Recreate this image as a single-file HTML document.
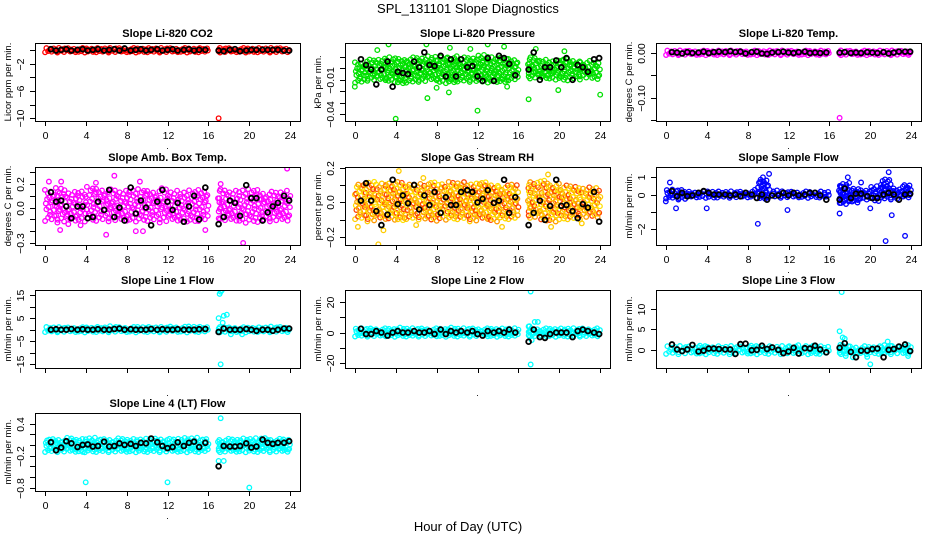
<!DOCTYPE html>
<html><head><meta charset="utf-8"><style>
body{margin:0;background:#fff;}
svg{display:block;font-family:"Liberation Sans",Arial,sans-serif;}
</style></head><body>
<svg id="c" width="936" height="540" viewBox="0 0 936 540">
<text x="468" y="13" text-anchor="middle" font-size="13">SPL_131101  Slope Diagnostics</text>
<text x="468" y="531" text-anchor="middle" font-size="13">Hour of Day (UTC)</text>
</svg>
<script>
// shared data
const hours = [0.6,1.1,1.6,2.1,2.6,3.2,3.7,4.2,4.7,5.2,5.8,6.3,6.8,7.3,7.8,8.4,8.9,9.4,9.9,10.4,11.0,11.5,12.0,12.5,13.0,13.6,14.1,14.6,15.1,15.7,17.0,17.5,18.1,18.6,19.1,19.7,20.2,20.7,21.3,21.8,22.3,22.8,23.4,23.9];
const xTicks = [0,4,8,12,16,20,24];

// per-panel black series
const co2Black = [0.1,-0.1,0.0,0.1,-0.1,0.0,0.1,-0.1,0.0,0.1,-0.1,0.0,0.1,-0.1,0.2,-0.1,0.0,0.1,-0.1,0.0,0.1,-0.1,0.0,0.1,-0.1,0.0,0.1,-0.1,0.0,0.0,-0.1,-0.2,0.0,0.1,-0.2,-0.1,0.0,0.0,0.0,0.0,0.0,0.0,-0.1,-0.1];
const presBlack = [0.008,0.003,-0.001,-0.014,-0.001,0.006,-0.016,-0.003,-0.004,-0.005,0.006,0.001,0.014,0.003,0.002,0.011,-0.007,0.008,-0.007,0.008,0.001,0.002,-0.007,-0.011,0.009,-0.011,0.011,0.009,0.004,-0.006,-0.001,0.014,-0.010,0.001,0.001,0.007,0.001,0.009,-0.010,0.003,0.001,-0.003,0.008,0.009];
const tempBlack = [0.001,0.0,-0.002,0.001,-0.001,0.0,0.002,-0.001,0.001,0.002,0.001,0.003,0.001,0.002,-0.002,0.001,0.002,-0.002,-0.003,0.0,0.001,0.002,0.0,-0.001,0.001,0.002,-0.001,0.0,-0.001,0.0,0.0,0.001,-0.001,0.0,-0.001,0.001,0.0,-0.001,0.001,-0.002,0.0,0.002,0.002,0.002];
const ambBlack = [0.13,0.05,0.06,0.01,-0.09,0.01,0.01,-0.09,-0.08,0.05,-0.02,0.15,-0.08,0.0,-0.11,0.17,-0.05,0.06,0.0,-0.15,0.05,0.15,0.05,-0.02,0.04,-0.12,0.01,0.1,-0.1,0.17,-0.14,-0.08,0.06,0.04,-0.07,0.19,0.08,0.08,-0.11,-0.04,0.01,0.04,0.1,0.06];
const rhBlack = [0.01,0.11,0.01,-0.05,-0.13,-0.07,0.13,-0.01,0.04,-0.005,0.1,-0.04,0.04,-0.015,0.06,-0.06,0.03,-0.015,-0.015,0.06,0.07,0.06,0.0,0.02,0.07,-0.003,0.01,0.13,-0.06,0.03,-0.13,-0.06,0.01,-0.1,-0.02,0.13,-0.02,-0.015,-0.05,-0.09,-0.01,-0.03,0.06,-0.11];
const sampleBlack = [0.2,-0.1,0.1,-0.1,-0.05,0.1,0.2,0.1,0.0,0.0,0.0,-0.05,0.0,-0.1,0.1,0.0,-0.2,0.0,-0.3,-0.05,-0.05,0.1,-0.05,0.1,-0.05,0.0,0.1,0.1,-0.05,-0.3,-0.3,0.35,-0.2,0.05,0.05,-0.1,-0.2,-0.2,0.0,0.1,0.0,-0.3,0.0,0.05];
const line1Black = [0.0,0.2,0.0,0.0,0.3,0.0,0.2,0.0,0.0,0.2,0.0,0.0,0.3,0.5,0.0,0.2,0.0,0.0,0.0,0.3,0.0,0.2,0.0,0.0,0.2,0.0,0.0,0.0,0.2,0.3,-1.0,0.5,0.0,0.0,0.0,0.3,0.0,-0.5,0.0,0.0,-0.5,0.0,0.5,0.5];
const line2Black = [2.5,-1,-1,1,0,-2,0,1,0,0,1,0,0,1,-1,2,-1,1,0,1,0,1,-1,-2,1,0,1,0,2,0,-6,2,-3,-3.5,-1,0,0,0,-3,1,2,1,0,-1];
const line3Black = [1.3,0.1,-0.3,0.1,1.2,-0.4,-0.2,0.3,0.3,0.2,0.1,0.1,-1.0,1.4,1.5,-0.1,0.0,1.0,0.2,0.6,0.0,-0.8,-0.4,0.5,-0.9,0.4,0.3,1.0,0.1,-0.6,0.5,1.6,-0.5,-1.8,-0.2,-0.2,0.2,0.3,-1.8,0.0,0.2,0.8,1.3,-0.3];
const line4Black = [0.05,-0.1,-0.05,0.07,0.03,-0.04,0.0,0.01,-0.03,-0.02,0.06,-0.03,-0.02,0.03,0.0,0.02,-0.02,0.04,0.03,0.12,0.05,-0.02,-0.06,-0.04,0.05,-0.02,0.04,0.06,-0.04,0.04,-0.4,-0.02,-0.03,-0.03,-0.02,0.03,-0.05,-0.03,0.1,0.04,0.02,0.04,0.04,0.07];

// cloud band (low/high per hour bin)
const co2Lo = Array(24).fill(-0.4), co2Hi = Array(24).fill(0.3);
const presLo = [-0.013,-0.011,-0.011,-0.012,-0.014,-0.013,-0.012,-0.011,-0.013,-0.013,-0.012,-0.012,-0.013,-0.012,-0.013,-0.011,-0.009,-0.009,-0.009,-0.010,-0.011,-0.010,-0.009,-0.010];
const presHi = [0.006,0.008,0.009,0.010,0.009,0.010,0.010,0.011,0.010,0.011,0.010,0.010,0.012,0.010,0.010,0.009,0.010,0.010,0.008,0.007,0.009,0.008,0.007,0.006];
const tempLo = Array(24).fill(-0.006), tempHi = Array(24).fill(0.005);
const ambLo = [-0.12,-0.13,-0.12,-0.12,-0.12,-0.12,-0.12,-0.12,-0.12,-0.12,-0.12,-0.13,-0.12,-0.12,-0.13,-0.12,-0.1,-0.12,-0.12,-0.13,-0.13,-0.12,-0.12,-0.12];
const ambHi = [0.16,0.18,0.14,0.15,0.18,0.17,0.16,0.15,0.16,0.16,0.15,0.17,0.15,0.14,0.15,0.16,0.17,0.16,0.15,0.16,0.16,0.14,0.14,0.15];
const rhLo = [-0.1,-0.11,-0.1,-0.1,-0.11,-0.1,-0.1,-0.11,-0.1,-0.1,-0.1,-0.11,-0.1,-0.11,-0.1,-0.1,-0.09,-0.09,-0.11,-0.11,-0.1,-0.1,-0.09,-0.09];
const rhHi = [0.11,0.12,0.11,0.12,0.12,0.11,0.11,0.12,0.11,0.12,0.12,0.11,0.12,0.11,0.1,0.11,0.12,0.12,0.13,0.11,0.1,0.1,0.09,0.09];
const sampleLo = [-0.25,-0.3,-0.2,-0.2,-0.25,-0.2,-0.2,-0.2,-0.2,-0.3,-0.2,-0.2,-0.2,-0.2,-0.2,-0.2,-0.5,-0.6,-0.5,-0.3,-0.4,-0.3,-0.3,-0.2];
const sampleHi = [0.3,0.3,0.2,0.2,0.25,0.2,0.2,0.2,0.3,0.9,0.3,0.2,0.2,0.2,0.2,0.2,0.6,0.7,0.4,0.3,0.5,0.9,0.4,0.6];
const line1Lo = Array(24).fill(-1.2), line1Hi = [1.3,1.2,1.2,1.2,1.3,1.3,1.6,1.3,1.3,1.6,1.3,1.3,1.6,1.4,1.8,1.4,1.5,1.2,1.2,1.2,1.2,1.2,1.4,1.4];
const line2Lo = Array(24).fill(-2.8), line2Hi = [3,3,3,3,3.5,3,3,3,3,3.5,3,3,3,3,3,3,5,3,3,3,3,3,3,3];
const line3Lo = Array(24).fill(-1.1), line3Hi = [1.0,1.0,1.0,1.2,1.0,1.0,1.0,1.0,1.2,1.0,1.0,1.0,1.2,1.0,1.1,1.0,1.5,1.2,1.0,1.0,1.0,1.2,1.0,1.2];
const line4Lo = Array(24).fill(-0.14), line4Hi = [0.12,0.12,0.14,0.12,0.14,0.12,0.12,0.13,0.12,0.12,0.13,0.13,0.12,0.14,0.14,0.12,0.1,0.12,0.12,0.13,0.13,0.14,0.12,0.12];

// outliers
const co2Out = [[17.0,-10.0]];
const presOut = [[4.0,-0.044],[12.0,-0.037],[7.1,-0.026],[9.2,-0.021],[17.0,-0.027],[19.9,-0.019],[24.0,-0.023],[0.0,-0.016],[3.3,0.021],[7.0,0.021],[13.0,0.021],[8.0,-0.017],[14.9,-0.016],[2.2,0.016],[9.3,0.018],[11.3,0.017],[14.6,0.019],[17.7,0.017],[20.5,0.015]];
const tempOut = [[17.0,-0.145]];
const ambOut = [[19.4,-0.3],[23.7,0.33],[6.8,0.27],[6.0,-0.23],[1.5,-0.19],[3.5,-0.15],[9.6,-0.2],[8.9,-0.2],[15.7,-0.19],[0.4,0.22],[1.6,0.22],[5.0,0.21],[9.3,0.22],[17.2,0.2],[2.3,-0.14]];
const rhOut = [[2.3,-0.24],[4.3,0.18],[0.3,-0.14],[6.0,-0.13],[14.4,-0.14],[18.9,0.16],[22.2,-0.12],[2.8,-0.16],[6.7,0.14],[19.2,-0.14]];
const sampleOut = [[0.4,0.7],[1.0,-0.8],[4.0,-0.8],[9.0,-1.7],[10.1,1.2],[11.9,-0.9],[17.0,-1.1],[17.8,1.0],[19.1,0.7],[21.5,-2.7],[21.8,1.3],[22.1,-1.2],[23.4,-2.4],[9.5,1.0],[20.0,-0.8],[0.0,-0.4]];
const line1Out = [[17.0,5],[17.1,15.5],[17.2,16.5],[17.3,17],[17.4,3],[17.5,6],[17.8,6.5],[17.2,-15],[18.2,-2],[19.3,-2]];
const line2Out = [[17.2,27],[17.2,-21],[17.6,7],[17.9,7],[17.0,4],[17.3,-5]];
const line3Out = [[17.2,14],[17.0,4.5],[17.5,2.7],[17.6,-1.5],[20.0,-3.5],[21.7,2],[19.7,-1.7],[23.7,-1.5],[18.3,-1.8],[17.3,3]];
const line4Out = [[4.0,-0.7],[12.0,-0.7],[20.0,-0.8],[17.2,0.5],[17.0,-0.3],[17.5,-0.3],[3.7,-0.13]];

const panels = [
 {name:'co2',col:0,row:0,title:'Slope Li-820 CO2',ylab:'Licor ppm per min.',ylim:[-10.4,1.0],ticks:[-10,-8,-6,-4,-2,0],labels:['-10','','-6','','-2',''],colors:['#ff0000'],lo:co2Lo,hi:co2Hi,black:co2Black,out:co2Out,xl:true,d:3.5},
 {name:'pressure',col:1,row:0,title:'Slope Li-820 Pressure',ylab:'kPa per min.',ylim:[-0.046,0.0222],ticks:[-0.04,-0.03,-0.02,-0.01,0,0.01],labels:['-0.04','','','-0.01','',''],colors:['#00e000'],lo:presLo,hi:presHi,black:presBlack,out:presOut,xl:true,d:4.2},
 {name:'temp',col:2,row:0,title:'Slope Li-820 Temp.',ylab:'degrees C per min.',ylim:[-0.152,0.0213],ticks:[-0.15,-0.10,-0.05,0],labels:['','-0.10','','0.00'],colors:['#ff00ff'],lo:tempLo,hi:tempHi,black:tempBlack,out:tempOut,xl:true,d:3.5},
 {name:'amb-box-temp',col:0,row:1,title:'Slope Amb. Box Temp.',ylab:'degrees C per min.',ylim:[-0.317,0.344],ticks:[-0.3,-0.2,-0.1,0,0.1,0.2,0.3],labels:['-0.3','','','0.0','','0.2',''],colors:['#ff00ff'],lo:ambLo,hi:ambHi,black:ambBlack,out:ambOut,xl:true,d:6.5},
 {name:'gas-stream-rh',col:1,row:1,title:'Slope Gas Stream RH',ylab:'percent per min.',ylim:[-0.244,0.203],ticks:[-0.2,-0.1,0,0.1,0.2],labels:['-0.2','','0.0','','0.2'],colors:['#ffcc00','#ff4400','#ffe000','#ff9900'],lo:rhLo,hi:rhHi,black:rhBlack,out:rhOut,xl:true,d:5},
 {name:'sample-flow',col:2,row:1,title:'Slope Sample Flow',ylab:'ml/min per min.',ylim:[-2.93,1.6],ticks:[-2,-1,0,1],labels:['-2','','0','1'],colors:['#0000ff'],lo:sampleLo,hi:sampleHi,black:sampleBlack,out:sampleOut,xl:true,d:3.5},
 {name:'line1-flow',col:0,row:2,title:'Slope Line 1 Flow',ylab:'ml/min per min.',ylim:[-16.6,17.2],ticks:[-15,-10,-5,0,5,10,15],labels:['-15','','-5','','5','','15'],colors:['#00ffff'],lo:line1Lo,hi:line1Hi,black:line1Black,out:line1Out,xl:false,d:3.5},
 {name:'line2-flow',col:1,row:2,title:'Slope Line 2 Flow',ylab:'ml/min per min.',ylim:[-23.3,28],ticks:[-20,-10,0,10,20],labels:['-20','','0','','20'],colors:['#00ffff'],lo:line2Lo,hi:line2Hi,black:line2Black,out:line2Out,xl:false,d:3.5},
 {name:'line3-flow',col:2,row:2,title:'Slope Line 3 Flow',ylab:'ml/min per min.',ylim:[-4.4,14.5],ticks:[0,5,10],labels:['0','5','10'],colors:['#00ffff'],lo:line3Lo,hi:line3Hi,black:line3Black,out:line3Out,xl:false,d:3.5},
 {name:'line4-flow',col:0,row:3,title:'Slope Line 4 (LT) Flow',ylab:'ml/min per min.',ylim:[-0.863,0.598],ticks:[-0.8,-0.6,-0.4,-0.2,0,0.2,0.4],labels:['-0.8','','','-0.2','','','0.4'],colors:['#00ffff'],lo:line4Lo,hi:line4Hi,black:line4Black,out:line4Out,xl:true,d:3.5}
];

const NS='http://www.w3.org/2000/svg';
const svg=document.getElementById('c');
const colX=[35,345,656], rowY=[43,167,290,413], PW=265, PH=78;
const jit=[0.12,0.63,0.37,0.88,0.05,0.51,0.76,0.24,0.94,0.43,0.69,0.17,0.82,0.31,0.57,0.02,0.47,0.91,0.28,0.73];
function mk(tag,attrs,parent){const e=document.createElementNS(NS,tag);for(const k in attrs)e.setAttribute(k,attrs[k]);(parent||svg).appendChild(e);return e;}

panels.forEach(p=>{
  const L=colX[p.col], T=rowY[p.row];
  const g=mk('g',{});
  
  
  const xs=h=>L+(h+0.96)/25.92*PW;
  const ys=v=>T+PH-(v-p.ylim[0])/(p.ylim[1]-p.ylim[0])*PH;
  const clip='clip-'+p.name;
  const cp=mk('clipPath',{id:clip},g); mk('rect',{x:L,y:T,width:PW,height:PH},cp);
  const cg=mk('g',{'clip-path':'url(#'+clip+')'},g);
  
  
  let n=0;
  for(let b=0;b<24;b++){
    const x0=b===16?16.9:b, x1=b===23?24:b+1;
    const py0=ys(p.hi[b]), py1=ys(p.lo[b]);
    const rows=Math.max(2,Math.round((py1-py0)/p.d));
    for(let x=x0;x<x1-0.001;x+=0.26){
      for(let j=0;j<rows;j++){
        const f=(j+jit[(n+j*3)%jit.length])/rows;
        const v=p.lo[b]+(p.hi[b]-p.lo[b])*f;
        const xx=x+0.25*jit[(n*7+j)%jit.length];
        const c=mk('circle',{cx:xs(xx).toFixed(1),cy:ys(v).toFixed(1),r:2.3,fill:'none',stroke:p.colors[(n+j)%p.colors.length],'stroke-width':1.3},cg);
        
        
      }
      n++;
    }
  }
  p.out.forEach(o=>{
    const c=mk('circle',{cx:xs(o[0]),cy:ys(o[1]),r:2.3,fill:'none',stroke:p.colors[0],'stroke-width':1.3},cg);
    
    
  });
  hours.forEach((h,i)=>{
    const c=mk('circle',{cx:xs(h),cy:ys(p.black[i]),r:2.4,fill:'none',stroke:'#000','stroke-width':1.8},cg);
    
    
  });
  const bx=mk('rect',{x:L+0.5,y:T+0.5,width:PW,height:PH,fill:'none',stroke:'#000','stroke-width':1},g);
  
  
  const t=mk('text',{x:L+PW/2,y:T-6,'text-anchor':'middle','font-size':11,'font-weight':'bold'},g);
  t.textContent=p.title;
  
  
  p.ticks.forEach((v,i)=>{
    const y=Math.round(ys(v))+0.5;
    mk('line',{x1:L-5,x2:L,y1:y,y2:y,stroke:'#000'},g);
    if(p.labels[i]){
      const tl=mk('text',{x:0,y:0,'text-anchor':'middle','font-size':10.5,transform:`translate(${L-11},${y}) rotate(-90)`},g);
      tl.textContent=p.labels[i].replace('-','\u2212');
      
      
    }
  });
  mk('line',{x1:L+0.5,x2:L+0.5,y1:Math.round(ys(p.ticks[0]))+0.5,y2:Math.round(ys(p.ticks[p.ticks.length-1]))+0.5,stroke:'#000'},g);
  const yl=mk('text',{x:0,y:0,'text-anchor':'middle','font-size':9.5,transform:`translate(${L-24},${T+PH/2}) rotate(-90)`},g);
  yl.textContent=p.ylab;
  
  
  xTicks.forEach(v=>{
    const x=Math.round(xs(v))+0.5;
    mk('line',{x1:x,x2:x,y1:T+PH,y2:T+PH+5,stroke:'#000'},g);
    if(p.xl){
      const tl=mk('text',{x:x,y:T+PH+18,'text-anchor':'middle','font-size':10.5},g);
      tl.textContent=v;
      
      
    }
  });
  mk('text',{x:L+PW/2,y:T+PH+28,'text-anchor':'middle','font-size':9},g).textContent='.';
});
</script>
</body></html>
